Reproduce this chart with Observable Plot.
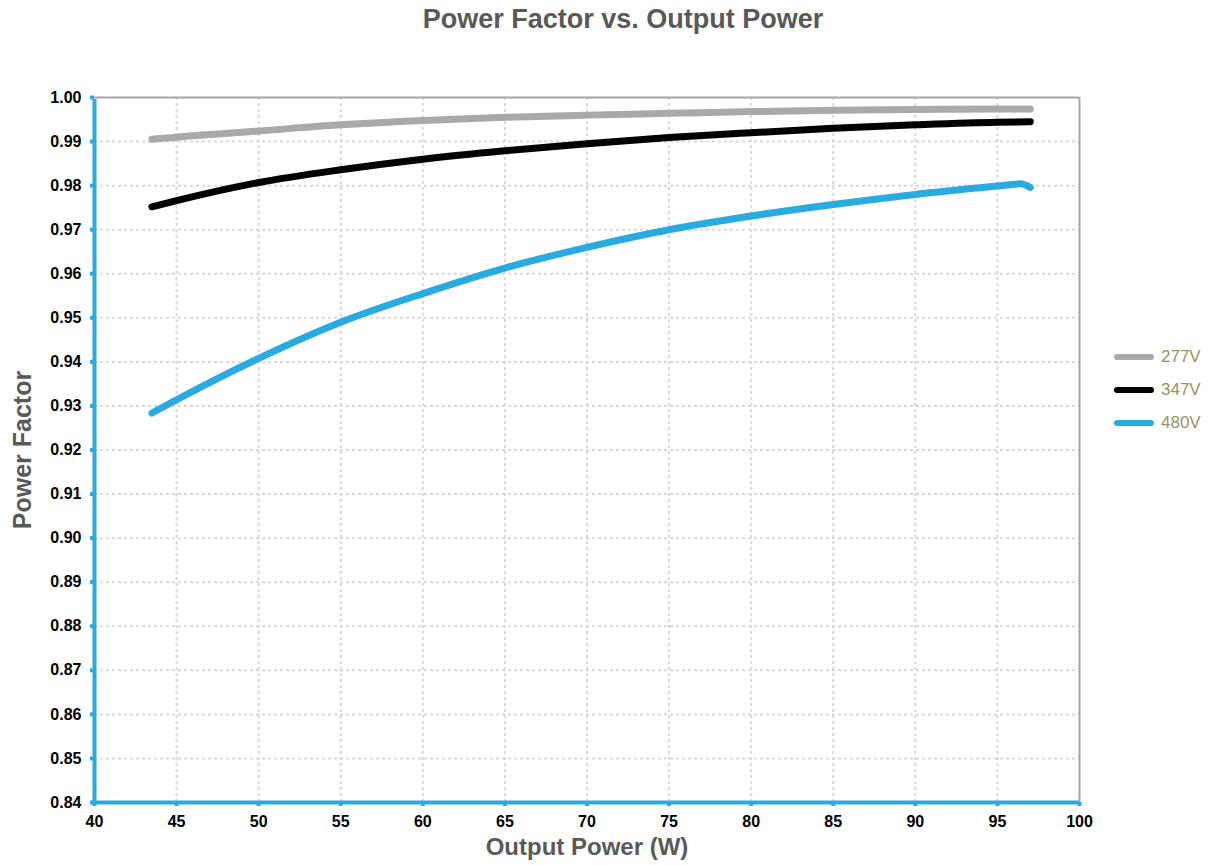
<!DOCTYPE html>
<html>
<head>
<meta charset="utf-8">
<script src="https://cdn.jsdelivr.net/npm/d3@7"></script>
<script src="https://cdn.jsdelivr.net/npm/@observablehq/plot@0.6"></script>
<style>
  html, body { margin: 0; padding: 0; background: #fff; }
  #wrap { position: relative; width: 1211px; height: 865px; font-family: "Liberation Sans", Arial, sans-serif; }
  #title { position: absolute; left: 0; width: 1246px; top: 4px; text-align: center; font-weight: bold; font-size: 27px; color: #595959; }
  #chart { position: absolute; left: 0; top: 40px; }
  #legend { position: absolute; left: 1114px; top: 340px; }
  .item { display: flex; align-items: center; height: 33px; }
  .sw { width: 40px; height: 6px; border-radius: 3px; margin-right: 7px; }
  .lab { font-size: 17px; color: #9b9161; }
</style>
</head>
<body>
<div id="wrap">
  <div id="title">Power Factor vs. Output Power</div>
  <div id="chart"></div>
  <div id="legend"></div>
</div>
<script>
const seriesNames = ["277V", "347V", "480V"];
const seriesColors = ["#a9a9a9", "#000000", "#29abe2"];

const x277 = [43.5, 45, 50, 55, 60, 65, 70, 75, 80, 85, 90, 95, 97];
const pf277 = [0.9905, 0.9910, 0.9924, 0.9938, 0.9948, 0.9955, 0.9960, 0.9964, 0.9968, 0.9971, 0.9973, 0.9974, 0.9974];

const x347 = [43.5, 45, 50, 55, 60, 65, 70, 75, 80, 85, 90, 95, 97];
const pf347 = [0.9752, 0.9766, 0.9807, 0.9836, 0.9860, 0.9879, 0.9895, 0.9909, 0.9920, 0.9930, 0.9938, 0.9944, 0.9945];

const x480 = [43.5, 45, 50, 55, 60, 65, 70, 75, 80, 85, 90, 95, 96.4, 97];
const pf480 = [0.9284, 0.9314, 0.9408, 0.9490, 0.9555, 0.9613, 0.9660, 0.9700, 0.9731, 0.9757, 0.9780, 0.9799, 0.9804, 0.9796];

const xTicks = [40, 45, 50, 55, 60, 65, 70, 75, 80, 85, 90, 95, 100];
const yTicks = [0.84, 0.85, 0.86, 0.87, 0.88, 0.89, 0.90, 0.91, 0.92, 0.93, 0.94, 0.95, 0.96, 0.97, 0.98, 0.99, 1.00];
const xLabel = "Output Power (W)";
const yLabel = "Power Factor";

const rows = [];
[[x277, pf277], [x347, pf347], [x480, pf480]].forEach(([xs, ys], i) => {
  xs.forEach((x, j) => rows.push({series: seriesNames[i], x, pf: ys[j]}));
});

const blue = "#29abe2";
const frameGray = "#a6a6a6";

const chart = Plot.plot({
  width: 1211,
  height: 825,
  marginLeft: 94,
  marginRight: 132,
  marginTop: 57,
  marginBottom: 63,
  style: { fontFamily: "'Liberation Sans', Arial, sans-serif", background: "white" },
  x: { domain: [40, 100] },
  y: { domain: [0.84, 1.00] },
  color: { domain: seriesNames, range: seriesColors },
  marks: [
    Plot.gridX(xTicks.slice(1, -1), { stroke: "#d9d9d9", strokeOpacity: 1, strokeWidth: 2, strokeDasharray: "3,3" }),
    Plot.gridY(yTicks.slice(1, -1), { stroke: "#d9d9d9", strokeOpacity: 1, strokeWidth: 2, strokeDasharray: "3,3" }),
    Plot.ruleY([1.00], { stroke: frameGray, strokeWidth: 2 }),
    Plot.ruleX([100], { stroke: frameGray, strokeWidth: 2 }),
    Plot.line(rows, { x: "x", y: "pf", z: "series", stroke: "series", strokeWidth: 7, curve: "monotone-x", strokeLinecap: "round", strokeLinejoin: "round" }),
    Plot.ruleX([40], { stroke: blue, strokeWidth: 4, y1: 0.84, y2: 1.00, insetBottom: -2 }),
    Plot.ruleY([0.84], { stroke: blue, strokeWidth: 4, x1: 40, x2: 100, insetLeft: -2 }),
    Plot.axisX(xTicks, { tickSize: 4, tickPadding: 9, stroke: blue, strokeWidth: 4, fill: "black", fontSize: 16, fontWeight: "bold", label: null }),
    Plot.axisY(yTicks, { tickSize: 4, tickPadding: 9, stroke: blue, strokeWidth: 4, fill: "black", fontSize: 16, fontWeight: "bold", tickFormat: d3.format(".2f"), label: null }),
    Plot.text([xLabel], { frameAnchor: "bottom", dy: 52, fill: "#595959", fontSize: 24, fontWeight: "bold", text: d => d }),
    Plot.text([yLabel], { frameAnchor: "left", textAnchor: "middle", dx: -72, rotate: -90, fill: "#595959", fontSize: 25, fontWeight: "bold", text: d => d })
  ]
});
document.getElementById("chart").appendChild(chart);

const legend = document.getElementById("legend");
seriesNames.forEach((name, i) => {
  const item = document.createElement("div");
  item.className = "item";
  const sw = document.createElement("div");
  sw.className = "sw";
  sw.style.background = seriesColors[i];
  const lab = document.createElement("span");
  lab.className = "lab";
  lab.textContent = name;
  item.appendChild(sw);
  item.appendChild(lab);
  legend.appendChild(item);
});
</script>
</body>
</html>
